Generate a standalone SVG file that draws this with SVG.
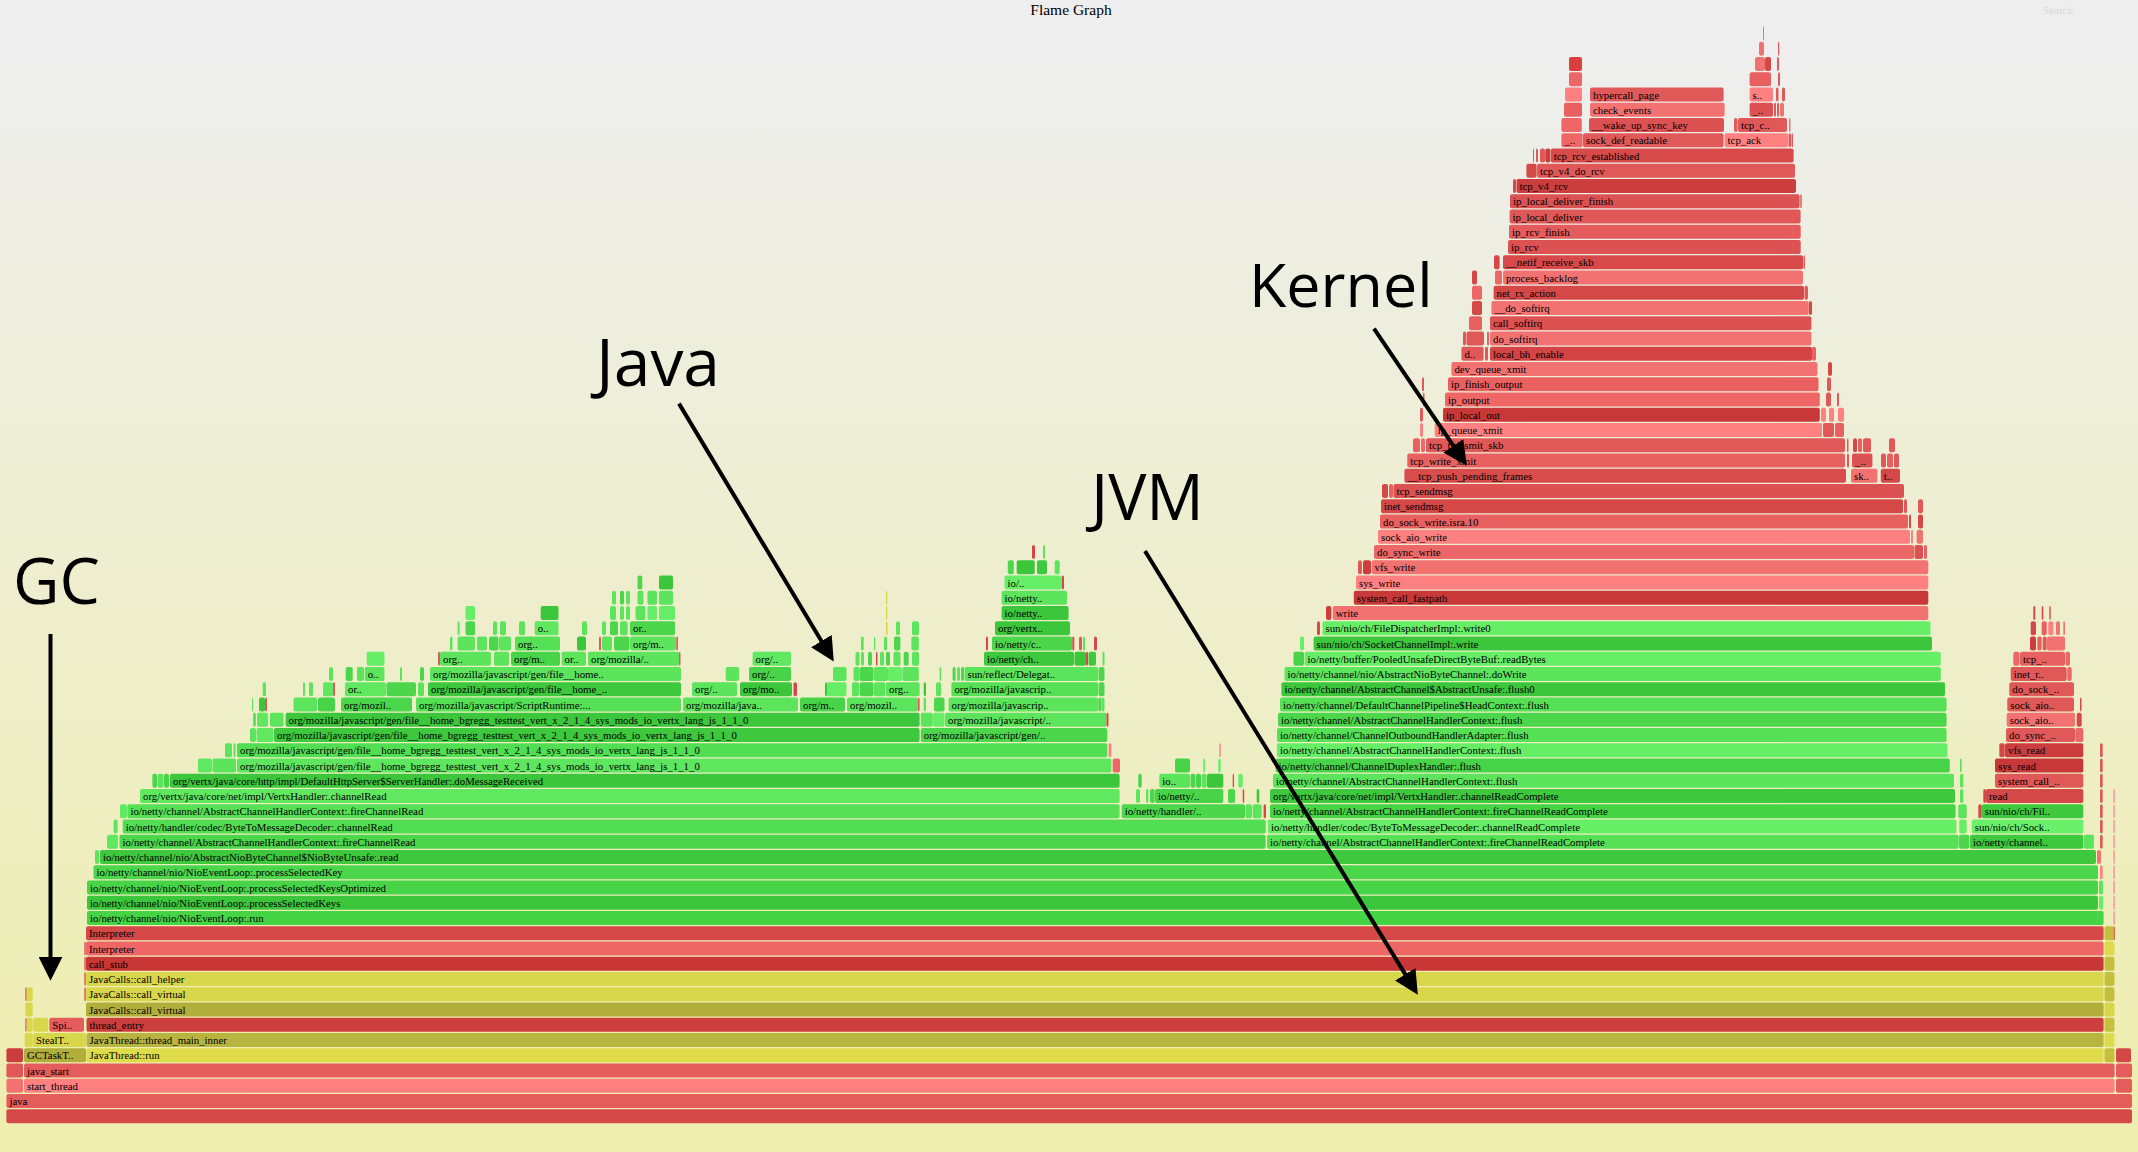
<svg xmlns="http://www.w3.org/2000/svg" width="2138" height="1152" viewBox="0 0 2138 1152">
<defs>
<linearGradient id="bg" x1="0" y1="0" x2="0" y2="1"><stop offset="0.05" stop-color="#eeeeee"/><stop offset="0.95" stop-color="#eeeeb0"/></linearGradient>
<marker id="ah" viewBox="0 0 10 10" refX="8" refY="5" markerWidth="24" markerHeight="24" markerUnits="userSpaceOnUse" orient="auto"><path d="M0,0 L10,5 L0,10 z" fill="#000"/></marker>
</defs>
<style>
#frames rect{rx:2px;ry:2px}
#frames text{font-family:"Liberation Serif","Times New Roman",serif;font-size:10.8px;fill:#000}
.a{fill:#d44848}.b{fill:#e55c5c}.c{fill:#ff8080}.d{fill:#ee6666}.e{fill:#c83838}.f{fill:#f27272}.h{fill:#dc5252}.i{fill:#e86060}.j{fill:#cc3e3e}.k{fill:#e05858}
.y1{fill:#dfdc4c}.y2{fill:#b7b43f}.y3{fill:#b2ae3c}.y4{fill:#d8d64a}.y5{fill:#c4c03e}
.g1{fill:#44d444}.g2{fill:#3cc63c}.g3{fill:#4cd64c}.g4{fill:#5ce45c}.g5{fill:#66ee66}.g6{fill:#55e055}.g7{fill:#3ec83e}.g8{fill:#60e860}.g9{fill:#48d448}.g10{fill:#52de52}
.lbl{font-family:"Open Sans","DejaVu Sans",sans-serif;font-size:64px;fill:#000}
.arr{stroke:#000;stroke-width:4;fill:none;marker-end:url(#ah)}
</style>
<rect x="0" y="0" width="2138" height="1152" fill="url(#bg)"/>
<text x="1071" y="14.5" text-anchor="middle" style="font-family:'Liberation Serif',serif;font-size:15.5px" fill="#000">Flame Graph</text>
<text x="2043" y="14" style="font-family:'Liberation Serif',serif;font-size:11px" fill="#000" opacity="0.1">Search</text>
<g id="frames">
<g id="row0" transform="translate(0,1109.3)"><g id="k0-root"><rect class="a" x="6.4" width="2125.6" height="14"/></g></g>
<g id="row1" transform="translate(0,1094.05)"><g id="k1-java"><rect class="b" x="6.4" width="2125.6" height="14"/><text x="9.4" y="11">java</text></g></g>
<g id="row2" transform="translate(0,1078.8)"><rect class="f" x="6.4" width="16.6" height="14"/><g id="k2-start_thread"><rect class="c" x="24" width="2090.6" height="14"/><text x="27" y="11">start_thread</text></g><rect class="b" x="2116" width="16" height="14"/></g>
<g id="row3" transform="translate(0,1063.55)"><rect class="k" x="6.4" width="16.6" height="14"/><g id="k3-java_start"><rect class="b" x="24" width="2090.6" height="14"/><text x="27" y="11">java_start</text></g><rect class="b" x="2116" width="16" height="14"/></g>
<g id="row4" transform="translate(0,1048.3)"><rect class="j" x="6.4" width="16.6" height="14"/><g id="k4-GCTask"><rect class="y3" x="24" width="62" height="14"/><text x="27" y="11">GCTaskT..</text></g><g id="k4-JavaThread_run"><rect class="y1" x="86.5" width="2017.1" height="14"/><text x="89.5" y="11">JavaThread::run</text></g><rect class="y5" x="2104.5" width="10" height="14"/><rect class="a" x="2116" width="15" height="14"/></g>
<g id="row5" transform="translate(0,1033.05)"><rect class="y4" x="24.7" width="8" height="14"/><g id="k5-StealT"><rect class="y4" x="33" width="53" height="14"/><text x="36" y="11">StealT..</text></g><g id="k5-main_inner"><rect class="y2" x="86.5" width="2017.1" height="14"/><text x="89.5" y="11">JavaThread::thread_main_inner</text></g><rect class="y1" x="2104.5" width="10" height="14"/></g>
<g id="row6" transform="translate(0,1017.8)"><rect class="k" x="25.3" width="1.4" height="14"/><rect class="y4" x="26.7" width="6" height="14"/><rect class="y4" x="33.3" width="15" height="14"/><g id="k6-Spi"><rect class="b" x="49.3" width="34.7" height="14"/><text x="52.3" y="11">Spi..</text></g><g id="k6-thread_entry"><rect fill="#cd3f3f" x="86.5" width="2017.1" height="14"/><text x="89.5" y="11">thread_entry</text></g><rect class="y5" x="2104.5" width="10" height="14"/></g>
<g id="row7" transform="translate(0,1002.55)"><rect class="y4" x="25.3" width="7.4" height="14"/><g id="k7-call_virtual"><rect class="y3" x="86" width="2017.6" height="14"/><text x="89" y="11">JavaCalls::call_virtual</text></g><rect class="y4" x="2104.5" width="10" height="14"/></g>
<g id="row8" transform="translate(0,987.3)"><rect class="k" x="25.3" width="1.4" height="14"/><rect class="y4" x="26.7" width="6" height="14"/><rect class="k" x="84.3" width="1.5" height="14"/><g id="k8-call_virtual"><rect class="y4" x="86" width="2017.6" height="14"/><text x="89" y="11">JavaCalls::call_virtual</text></g><rect class="y5" x="2104.5" width="10" height="14"/></g>
<g id="row9" transform="translate(0,972.05)"><rect class="k" x="84.3" width="1.5" height="14"/><g id="k9-call_helper"><rect class="y4" x="86" width="2017.6" height="14"/><text x="89" y="11">JavaCalls::call_helper</text></g><rect class="y5" x="2104.5" width="10" height="14"/></g>
<g id="row10" transform="translate(0,956.8)"><rect class="k" x="84.3" width="1.5" height="14"/><g id="k10-call_stub"><rect fill="#c83636" x="86" width="2017.6" height="14"/><text x="89" y="11">call_stub</text></g><rect class="y5" x="2104.5" width="10" height="14"/></g>
<g id="row11" transform="translate(0,941.55)"><rect class="k" x="84.3" width="1.5" height="14"/><g id="k11-Interpreter"><rect class="d" x="86" width="2017.6" height="14"/><text x="89" y="11">Interpreter</text></g><rect class="y1" x="2104.5" width="10" height="14"/></g>
<g id="row12" transform="translate(0,926.3)"><g id="k12-Interpreter"><rect class="a" x="86" width="2017.6" height="14"/><text x="89" y="11">Interpreter</text></g><rect class="y5" x="2104.5" width="10" height="14"/><rect class="d" x="2113.6" width="1.4" height="14"/></g>
<g id="row13" transform="translate(0,911.05)"><g id="k13-run"><rect class="g1" x="87" width="2016.6" height="14"/><text x="90" y="11">io/netty/channel/nio/NioEventLoop:.run</text></g><rect fill="#f4a0a0" x="2113.3" width="1.7" height="14"/></g>
<g id="row14" transform="translate(0,895.8)"><g id="k14-pSK"><rect class="g2" x="87" width="2011" height="14"/><text x="90" y="11">io/netty/channel/nio/NioEventLoop:.processSelectedKeys</text></g><rect class="g5" x="2099" width="4" height="14"/><rect fill="#f4a0a0" x="2113.3" width="1.7" height="14"/></g>
<g id="row15" transform="translate(0,880.55)"><g id="k15-pSKO"><rect class="g9" x="87" width="2011" height="14"/><text x="90" y="11">io/netty/channel/nio/NioEventLoop:.processSelectedKeysOptimized</text></g><rect class="g4" x="2099" width="4" height="14"/><rect fill="#f4a0a0" x="2113.3" width="1.7" height="14"/></g>
<g id="row16" transform="translate(0,865.3)"><g id="k16-pSK1"><rect class="g3" x="93.5" width="2004.5" height="14"/><text x="96.5" y="11">io/netty/channel/nio/NioEventLoop:.processSelectedKey</text></g><rect class="c" x="2100" width="2.7" height="14"/><rect fill="#f4a0a0" x="2113.3" width="1.7" height="14"/></g>
<g id="row17" transform="translate(0,850.05)"><rect class="g4" x="95" width="4" height="14"/><g id="k17-read"><rect class="g7" x="100" width="1996" height="14"/><text x="103" y="11">io/netty/channel/nio/AbstractNioByteChannel$NioByteUnsafe:.read</text></g><rect class="f" x="2097" width="4" height="14"/><rect fill="#f4a0a0" x="2113.3" width="1.7" height="14"/></g>
<g id="row18" transform="translate(0,834.8)"><rect class="g8" x="107" width="11" height="14"/><g id="k18-fCR"><rect class="g3" x="119.5" width="1146.2" height="14"/><text x="122.5" y="11">io/netty/channel/AbstractChannelHandlerContext:.fireChannelRead</text></g><g id="k18-fCRC"><rect class="g6" x="1267" width="691.6" height="14"/><text x="1270" y="11">io/netty/channel/AbstractChannelHandlerContext:.fireChannelReadComplete</text></g><rect class="g3" x="1959" width="10.3" height="14"/><g id="k18-ionc"><rect class="g7" x="1970" width="113.3" height="14"/><text x="1973" y="11">io/netty/channel..</text></g><rect class="g4" x="2083.8" width="10.2" height="14"/><rect class="k" x="2100" width="2.7" height="14"/><rect fill="#f4a0a0" x="2113.3" width="1.7" height="14"/></g>
<g id="row19" transform="translate(0,819.55)"><rect class="g4" x="113.6" width="4" height="14"/><g id="k19-B2MD"><rect class="g10" x="122.7" width="1143" height="14"/><text x="125.7" y="11">io/netty/handler/codec/ByteToMessageDecoder:.channelRead</text></g><g id="k19-B2MDc"><rect class="g5" x="1268" width="688.4" height="14"/><text x="1271" y="11">io/netty/handler/codec/ByteToMessageDecoder:.channelReadComplete</text></g><rect class="g5" x="1959.3" width="7.4" height="14"/><g id="k19-sock"><rect fill="#6af06a" x="1971.7" width="111.6" height="14"/><text x="1974.7" y="11">sun/nio/ch/Sock..</text></g><rect class="k" x="2100" width="2.7" height="14"/><rect fill="#f4a0a0" x="2113.3" width="1.7" height="14"/></g>
<g id="row20" transform="translate(0,804.3)"><rect class="g8" x="120" width="7" height="14"/><g id="k20-fCR"><rect class="g6" x="127.4" width="992.2" height="14"/><text x="130.4" y="11">io/netty/channel/AbstractChannelHandlerContext:.fireChannelRead</text></g><g id="k20-handler"><rect class="g3" x="1121.7" width="123.3" height="14"/><text x="1124.7" y="11">io/netty/handler/..</text></g><rect class="g4" x="1245.5" width="6.5" height="14"/><rect class="g4" x="1252.7" width="9" height="14"/><rect class="a" x="1263.6" width="2.4" height="14"/><g id="k20-fCRC"><rect class="g1" x="1270" width="685.5" height="14"/><text x="1273" y="11">io/netty/channel/AbstractChannelHandlerContext:.fireChannelReadComplete</text></g><rect class="g4" x="1958.3" width="8.4" height="14"/><rect class="a" x="1978.3" width="3.4" height="14"/><g id="k20-fil"><rect class="g7" x="1981.7" width="101.6" height="14"/><text x="1984.7" y="11">sun/nio/ch/Fil..</text></g><rect class="k" x="2100" width="2.7" height="14"/><rect fill="#f4a0a0" x="2113.3" width="1.7" height="14"/></g>
<g id="row21" transform="translate(0,789.05)"><g id="k21-vertx"><rect class="g8" x="140" width="979.6" height="14"/><text x="143" y="11">org/vertx/java/core/net/impl/VertxHandler:.channelRead</text></g><rect class="g4" x="1136" width="4" height="14"/><rect class="g4" x="1146" width="2.3" height="14"/><rect class="g3" x="1150" width="4.6" height="14"/><g id="k21-ion"><rect class="g9" x="1155" width="68.3" height="14"/><text x="1158" y="11">io/netty/..</text></g><rect class="g3" x="1228" width="7" height="14"/><rect class="a" x="1242.7" width="1.5" height="14"/><rect class="g2" x="1256.7" width="2.6" height="14"/><g id="k21-vertxc"><rect class="g7" x="1270" width="685" height="14"/><text x="1273" y="11">org/vertx/java/core/net/impl/VertxHandler:.channelReadComplete</text></g><rect class="g4" x="1960" width="3.3" height="14"/><rect class="a" x="1983.3" width="2.7" height="14"/><g id="k21-read"><rect class="a" x="1986" width="97.3" height="14"/><text x="1989" y="11">read</text></g><rect class="k" x="2100" width="2.7" height="14"/><rect fill="#f4a0a0" x="2113.3" width="1.7" height="14"/></g>
<g id="row22" transform="translate(0,773.8)"><rect class="g3" x="152.4" width="4.6" height="14"/><rect class="g4" x="157.5" width="6" height="14"/><rect class="g9" x="164" width="5" height="14"/><g id="k22-dmr"><rect class="g2" x="170" width="949.6" height="14"/><text x="173" y="11">org/vertx/java/core/http/impl/DefaultHttpServer$ServerHandler:.doMessageReceived</text></g><rect class="g9" x="1138.3" width="3.4" height="14"/><g id="k22-io"><rect class="g4" x="1159.3" width="30.7" height="14"/><text x="1162.3" y="11">io..</text></g><rect class="g3" x="1190.5" width="5" height="14"/><rect class="g9" x="1196" width="5" height="14"/><rect class="g4" x="1201.7" width="5" height="14"/><rect class="g2" x="1207" width="16.3" height="14"/><rect class="a" x="1232.7" width="1.3" height="14"/><rect class="g5" x="1238.3" width="4.4" height="14"/><g id="k22-flush"><rect class="g4" x="1273" width="681" height="14"/><text x="1276" y="11">io/netty/channel/AbstractChannelHandlerContext:.flush</text></g><rect class="g4" x="1960" width="3.3" height="14"/><g id="k22-scf"><rect class="k" x="1995" width="88.3" height="14"/><text x="1998" y="11">system_call_..</text></g><rect class="k" x="2100" width="2.7" height="14"/></g>
<g id="row23" transform="translate(0,758.55)"><rect class="g8" x="198" width="14" height="14"/><rect class="g4" x="212.5" width="23.5" height="14"/><g id="k23-js"><rect fill="#5ee65e" x="237" width="874.4" height="14"/><text x="240" y="11">org/mozilla/javascript/gen/file__home_bgregg_testtest_vert_x_2_1_4_sys_mods_io_vertx_lang_js_1_1_0</text></g><rect class="d" x="1112.7" width="7.3" height="14"/><rect class="g9" x="1175" width="15" height="14"/><rect class="g5" x="1203.3" width="1.7" height="14"/><rect class="g5" x="1218.3" width="2.4" height="14"/><g id="k23-dflush"><rect class="g9" x="1275.6" width="674.2" height="14"/><text x="1278.6" y="11">io/netty/channel/ChannelDuplexHandler:.flush</text></g><rect class="g4" x="1960" width="1.7" height="14"/><g id="k23-sysread"><rect class="e" x="1995" width="88.3" height="14"/><text x="1998" y="11">sys_read</text></g><rect class="k" x="2100" width="2.7" height="14"/></g>
<g id="row24" transform="translate(0,743.3)"><rect class="g4" x="225" width="7" height="14"/><rect class="g4" x="233.5" width="2" height="14"/><g id="k24-js"><rect class="g10" x="237" width="870.3" height="14"/><text x="240" y="11">org/mozilla/javascript/gen/file__home_bgregg_testtest_vert_x_2_1_4_sys_mods_io_vertx_lang_js_1_1_0</text></g><rect class="c" x="1108.6" width="2.8" height="14"/><rect class="c" x="1219.3" width="1.4" height="14"/><g id="k24-flush"><rect class="g5" x="1277" width="670.5" height="14"/><text x="1280" y="11">io/netty/channel/AbstractChannelHandlerContext:.flush</text></g><rect class="a" x="1999.3" width="5.4" height="14"/><g id="k24-vfsread"><rect class="j" x="2005" width="78.3" height="14"/><text x="2008" y="11">vfs_read</text></g><rect class="k" x="2100" width="2.7" height="14"/></g>
<g id="row25" transform="translate(0,728.05)"><rect class="g4" x="250" width="6" height="14"/><rect class="g8" x="256.5" width="17" height="14"/><g id="k25-js"><rect class="g7" x="274" width="645.6" height="14"/><text x="277" y="11">org/mozilla/javascript/gen/file__home_bgregg_testtest_vert_x_2_1_4_sys_mods_io_vertx_lang_js_1_1_0</text></g><g id="k25-gen"><rect class="g3" x="920.8" width="186.5" height="14"/><text x="923.8" y="11">org/mozilla/javascript/gen/..</text></g><g id="k25-oflush"><rect class="g6" x="1277" width="669.6" height="14"/><text x="1280" y="11">io/netty/channel/ChannelOutboundHandlerAdapter:.flush</text></g><g id="k25-dsync"><rect class="k" x="2006" width="69" height="14"/><text x="2009" y="11">do_sync_..</text></g><rect class="d" x="2075.3" width="8" height="14"/></g>
<g id="row26" transform="translate(0,712.8)"><rect class="g4" x="253" width="3" height="14"/><rect class="g8" x="257" width="11" height="14"/><rect class="g4" x="270" width="13.6" height="14"/><g id="k26-js"><rect class="g2" x="285.6" width="634" height="14"/><text x="288.6" y="11">org/mozilla/javascript/gen/file__home_bgregg_testtest_vert_x_2_1_4_sys_mods_io_vertx_lang_js_1_1_0</text></g><rect class="g4" x="920.8" width="12" height="14"/><rect class="g5" x="933" width="11.5" height="14"/><g id="k26-jsx"><rect class="g4" x="945" width="161.5" height="14"/><text x="948" y="11">org/mozilla/javascript/..</text></g><rect class="a" x="1106.5" width="2" height="14"/><g id="k26-flush"><rect class="g3" x="1278" width="668.6" height="14"/><text x="1281" y="11">io/netty/channel/AbstractChannelHandlerContext:.flush</text></g><g id="k26-saio"><rect class="f" x="2006.7" width="68.3" height="14"/><text x="2009.7" y="11">sock_aio..</text></g><rect class="a" x="2076.7" width="5" height="14"/></g>
<g id="row27" transform="translate(0,697.55)"><rect class="g4" x="252" width="1" height="14"/><rect class="g2" x="259" width="6" height="14"/><rect class="k" x="265" width="2" height="14"/><rect class="g4" x="293.5" width="23.5" height="14"/><rect class="g9" x="318" width="17" height="14"/><g id="k27-om1"><rect class="g3" x="341" width="71" height="14"/><text x="344" y="11">org/mozil..</text></g><g id="k27-sr"><rect class="g6" x="416" width="265" height="14"/><text x="419" y="11">org/mozilla/javascript/ScriptRuntime:...</text></g><g id="k27-omj"><rect class="g4" x="683" width="115" height="14"/><text x="686" y="11">org/mozilla/java..</text></g><g id="k27-om"><rect class="g9" x="800" width="45" height="14"/><text x="803" y="11">org/m..</text></g><g id="k27-om2"><rect class="g4" x="847" width="71" height="14"/><text x="850" y="11">org/mozil..</text></g><rect class="k" x="918" width="1.6" height="14"/><rect class="g4" x="923.7" width="2.3" height="14"/><rect class="g3" x="934" width="10.5" height="14"/><g id="k27-omjs"><rect class="g4" x="948.6" width="149.4" height="14"/><text x="951.6" y="11">org/mozilla/javascrip..</text></g><rect class="g3" x="1098.3" width="2.7" height="14"/><rect class="g4" x="1101.3" width="3.2" height="14"/><g id="k27-hflush"><rect class="g6" x="1280" width="666.6" height="14"/><text x="1283" y="11">io/netty/channel/DefaultChannelPipeline$HeadContext:.flush</text></g><g id="k27-saio"><rect class="k" x="2007.3" width="66.7" height="14"/><text x="2010.3" y="11">sock_aio..</text></g><rect class="a" x="2080" width="1.5" height="14"/></g>
<g id="row28" transform="translate(0,682.3)"><rect class="g4" x="262.7" width="3.3" height="14"/><rect class="g4" x="303" width="2" height="14"/><rect class="g4" x="309" width="4" height="14"/><rect class="g8" x="323" width="10" height="14"/><rect class="k" x="333" width="2" height="14"/><g id="k28-or"><rect class="g8" x="345" width="41" height="14"/><text x="348" y="11">or..</text></g><rect class="g3" x="386.5" width="29.5" height="14"/><rect class="g4" x="418" width="6" height="14"/><g id="k28-fh"><rect class="g7" x="428" width="253" height="14"/><text x="431" y="11">org/mozilla/javascript/gen/file__home_..</text></g><g id="k28-org"><rect class="g4" x="692" width="45" height="14"/><text x="695" y="11">org/..</text></g><g id="k28-orgmo"><rect class="g2" x="740" width="52" height="14"/><text x="743" y="11">org/mo..</text></g><rect class="a" x="793.5" width="3.5" height="14"/><rect class="g2" x="825" width="2" height="14"/><rect class="g5" x="827" width="19.5" height="14"/><rect class="g4" x="852" width="7" height="14"/><rect class="g3" x="859.6" width="14" height="14"/><rect class="g4" x="874" width="11.5" height="14"/><g id="k28-org2"><rect class="g4" x="886" width="33.6" height="14"/><text x="889" y="11">org..</text></g><rect class="g2" x="923.7" width="2.3" height="14"/><rect class="g4" x="936" width="5" height="14"/><g id="k28-omjs"><rect class="g6" x="951.4" width="147" height="14"/><text x="954.4" y="11">org/mozilla/javascrip..</text></g><rect class="g3" x="1098.8" width="5.7" height="14"/><g id="k28-flush0"><rect class="g2" x="1281.4" width="663.6" height="14"/><text x="1284.4" y="11">io/netty/channel/AbstractChannel$AbstractUnsafe:.flush0</text></g><g id="k28-dsock"><rect class="k" x="2009.3" width="64.7" height="14"/><text x="2012.3" y="11">do_sock_..</text></g></g>
<g id="row29" transform="translate(0,667.05)"><rect class="g4" x="329" width="4" height="14"/><rect class="g3" x="345.7" width="7" height="14"/><rect class="g4" x="357" width="7" height="14"/><g id="k29-o"><rect class="g4" x="364.7" width="19.8" height="14"/><text x="367.7" y="11">o..</text></g><rect class="g4" x="400" width="2" height="14"/><rect class="g3" x="420" width="4" height="14"/><g id="k29-fh"><rect class="g4" x="430" width="251" height="14"/><text x="433" y="11">org/mozilla/javascript/gen/file__home..</text></g><rect class="g4" x="725.7" width="13.3" height="14"/><g id="k29-org"><rect class="g9" x="749" width="42" height="14"/><text x="752" y="11">org/..</text></g><rect class="g4" x="833" width="13.5" height="14"/><rect class="g4" x="853.5" width="6" height="14"/><rect class="g3" x="859.6" width="14" height="14"/><rect class="g4" x="874" width="14" height="14"/><rect class="g5" x="888" width="14" height="14"/><rect class="g4" x="902.4" width="16.4" height="14"/><rect class="g4" x="939.6" width="1.6" height="14"/><rect class="g3" x="952.6" width="3" height="14"/><rect class="g4" x="957" width="3" height="14"/><rect class="g3" x="961" width="3" height="14"/><g id="k29-deleg"><rect class="g4" x="964.5" width="133.9" height="14"/><text x="967.5" y="11">sun/reflect/Delegat..</text></g><rect class="g3" x="1098.8" width="5.7" height="14"/><g id="k29-dowrite"><rect class="g4" x="1284.5" width="656.3" height="14"/><text x="1287.5" y="11">io/netty/channel/nio/AbstractNioByteChannel:.doWrite</text></g><g id="k29-inet"><rect class="k" x="2010.7" width="56" height="14"/><text x="2013.7" y="11">inet_r..</text></g><rect class="d" x="2067.3" width="4.4" height="14"/></g>
<g id="row30" transform="translate(0,651.8)"><rect class="g5" x="366.7" width="17.8" height="14"/><rect class="k" x="438" width="2" height="14"/><g id="k30-org"><rect class="g4" x="440" width="51" height="14"/><text x="443" y="11">org..</text></g><rect class="g4" x="494" width="15" height="14"/><g id="k30-orgm"><rect class="g9" x="511" width="49" height="14"/><text x="514" y="11">org/m..</text></g><g id="k30-or"><rect class="g4" x="561.6" width="24.4" height="14"/><text x="564.6" y="11">or..</text></g><g id="k30-om"><rect class="g4" x="588" width="91" height="14"/><text x="591" y="11">org/mozilla/..</text></g><rect class="k" x="679" width="1.5" height="14"/><g id="k30-org2"><rect class="g8" x="752.6" width="38.4" height="14"/><text x="755.6" y="11">org/..</text></g><rect class="g4" x="855.5" width="4" height="14"/><rect class="g4" x="861" width="3" height="14"/><rect class="g3" x="868" width="4" height="14"/><rect class="a" x="876" width="1.5" height="14"/><rect class="g4" x="880" width="4" height="14"/><rect class="g3" x="886" width="4" height="14"/><rect class="g4" x="893.5" width="7" height="14"/><rect class="g3" x="903.7" width="5" height="14"/><rect class="g4" x="912" width="7" height="14"/><g id="k30-ionch"><rect class="g7" x="984" width="90" height="14"/><text x="987" y="11">io/netty/ch..</text></g><rect class="g2" x="1074.5" width="11.5" height="14"/><rect class="a" x="1086" width="2" height="14"/><rect class="g7" x="1088.5" width="7.5" height="14"/><rect class="g4" x="1102.5" width="2" height="14"/><rect class="g9" x="1293.5" width="10.5" height="14"/><g id="k30-readbytes"><rect class="g5" x="1304.6" width="636.2" height="14"/><text x="1307.6" y="11">io/netty/buffer/PooledUnsafeDirectByteBuf:.readBytes</text></g><rect class="d" x="2013.3" width="6.2" height="14"/><g id="k30-tcp"><rect class="i" x="2020" width="45" height="14"/><text x="2023" y="11">tcp_..</text></g><rect class="d" x="2065.5" width="4.5" height="14"/></g>
<g id="row31" transform="translate(0,636.55)"><rect class="g4" x="450" width="2.5" height="14"/><rect class="g4" x="457.6" width="17.4" height="14"/><rect class="g4" x="477" width="10" height="14"/><rect class="g3" x="489" width="9.5" height="14"/><rect class="g4" x="499" width="12" height="14"/><g id="k31-org"><rect class="g6" x="515" width="45" height="14"/><text x="518" y="11">org..</text></g><rect class="g2" x="577" width="9" height="14"/><rect class="k" x="599" width="2" height="14"/><rect class="g4" x="602" width="10" height="14"/><rect class="g3" x="614" width="15.5" height="14"/><g id="k31-orgm"><rect class="g4" x="630" width="46" height="14"/><text x="633" y="11">org/m..</text></g><rect class="k" x="676.3" width="1.7" height="14"/><rect class="g4" x="861" width="2.7" height="14"/><rect class="g4" x="874" width="1.2" height="14"/><rect class="g4" x="884" width="3" height="14"/><rect class="g3" x="894" width="6.4" height="14"/><rect class="g4" x="911.4" width="7.4" height="14"/><rect class="a" x="986" width="2" height="14"/><g id="k31-ionc"><rect class="g3" x="992" width="80" height="14"/><text x="995" y="11">io/netty/c..</text></g><rect class="a" x="1072.3" width="2" height="14"/><rect class="k" x="1079" width="3" height="14"/><rect class="g4" x="1083" width="2" height="14"/><rect class="a" x="1094" width="3" height="14"/><rect class="g5" x="1300" width="4" height="14"/><g id="k31-scw"><rect class="g2" x="1313.6" width="618.4" height="14"/><text x="1316.6" y="11">sun/nio/ch/SocketChannelImpl:.write</text></g><rect class="j" x="2030" width="6" height="14"/><rect class="i" x="2037.3" width="4.4" height="14"/><rect class="k" x="2042.7" width="4" height="14"/><rect class="f" x="2047" width="18" height="14"/></g>
<g id="row32" transform="translate(0,621.3)"><rect class="g4" x="457.6" width="2" height="14"/><rect class="g3" x="465.5" width="9.5" height="14"/><rect class="g4" x="493" width="4" height="14"/><rect class="g4" x="500" width="6" height="14"/><rect class="g4" x="519" width="6" height="14"/><g id="k32-o"><rect class="g8" x="534.7" width="23.8" height="14"/><text x="537.7" y="11">o..</text></g><rect class="g4" x="582" width="5" height="14"/><rect class="g4" x="602" width="4" height="14"/><rect class="g3" x="610" width="8" height="14"/><rect class="g4" x="620" width="7.6" height="14"/><g id="k32-or"><rect class="g3" x="630" width="45" height="14"/><text x="633" y="11">or..</text></g><rect class="y4" x="886" width="1.6" height="14"/><rect class="g4" x="896" width="4" height="14"/><rect class="g4" x="912" width="7" height="14"/><g id="k32-vertx"><rect class="g2" x="995" width="75" height="14"/><text x="998" y="11">org/vertx..</text></g><rect class="a" x="1317" width="3" height="14"/><g id="k32-write0"><rect class="g5" x="1322.5" width="608" height="14"/><text x="1325.5" y="11">sun/nio/ch/FileDispatcherImpl:.write0</text></g><rect class="a" x="2030.7" width="5.3" height="14"/><rect class="i" x="2041.7" width="5" height="14"/><rect class="c" x="2048.3" width="5" height="14"/><rect class="f" x="2056" width="4" height="14"/><rect class="f" x="2063.3" width="1.7" height="14"/></g>
<g id="row33" transform="translate(0,606.05)"><rect class="g5" x="465.5" width="9.5" height="14"/><rect class="g2" x="540.7" width="17.8" height="14"/><rect class="g4" x="610" width="6" height="14"/><rect class="g4" x="620" width="4" height="14"/><rect class="g4" x="626" width="4" height="14"/><rect class="g4" x="635.5" width="10" height="14"/><rect class="g5" x="647.4" width="9.6" height="14"/><rect class="g5" x="659" width="16" height="14"/><rect class="y4" x="886" width="1.3" height="14"/><g id="k33-ion"><rect class="g2" x="1001.6" width="67" height="14"/><text x="1004.6" y="11">io/netty..</text></g><rect class="j" x="1326" width="5.4" height="14"/><g id="k33-write"><rect class="f" x="1332.8" width="595.5" height="14"/><text x="1335.8" y="11">write</text></g><rect class="a" x="2033.3" width="2" height="14"/><rect class="a" x="2041.7" width="1.6" height="14"/><rect class="a" x="2049.3" width="1.4" height="14"/></g>
<g id="row34" transform="translate(0,590.8)"><rect class="g4" x="612" width="4" height="14"/><rect class="g3" x="620" width="4" height="14"/><rect class="g4" x="626" width="4" height="14"/><rect class="g4" x="637.5" width="6" height="14"/><rect class="g4" x="647.4" width="9.6" height="14"/><rect class="g4" x="659" width="14" height="14"/><rect class="y4" x="886" width="1.3" height="14"/><g id="k34-ion"><rect class="g4" x="1001.6" width="65.4" height="14"/><text x="1004.6" y="11">io/netty..</text></g><g id="k34-scf"><rect class="e" x="1353.8" width="574.5" height="14"/><text x="1356.8" y="11">system_call_fastpath</text></g></g>
<g id="row35" transform="translate(0,575.55)"><rect class="g3" x="637.5" width="4.8" height="14"/><rect class="g2" x="659" width="14" height="14"/><g id="k35-io"><rect class="g5" x="1004.5" width="57.5" height="14"/><text x="1007.5" y="11">io/..</text></g><rect class="a" x="1062" width="2" height="14"/><g id="k35-syswrite"><rect class="c" x="1356" width="572.3" height="14"/><text x="1359" y="11">sys_write</text></g></g>
<g id="row36" transform="translate(0,560.3)"><rect class="g3" x="1007.8" width="6" height="14"/><rect class="g2" x="1016.7" width="18" height="14"/><rect class="g7" x="1037" width="10" height="14"/><rect class="g4" x="1054.7" width="5" height="14"/><rect class="k" x="1358" width="4" height="14"/><rect class="j" x="1363" width="8" height="14"/><g id="k36-vfswrite"><rect class="f" x="1371.6" width="556.7" height="14"/><text x="1374.6" y="11">vfs_write</text></g></g>
<g id="row37" transform="translate(0,545.05)"><rect class="a" x="1032" width="3" height="14"/><rect class="g4" x="1043" width="2" height="14"/><g id="k37-dsw"><rect fill="#ec6868" x="1374" width="540" height="14"/><text x="1377" y="11">do_sync_write</text></g><rect class="h" x="1914.5" width="8.5" height="14"/><rect class="i" x="1924" width="3" height="14"/></g>
<g id="row38" transform="translate(0,529.8)"><g id="k38-saw"><rect class="c" x="1378" width="532" height="14"/><text x="1381" y="11">sock_aio_write</text></g><rect class="c" x="1911" width="2" height="14"/><rect class="f" x="1916.6" width="6.4" height="14"/></g>
<g id="row39" transform="translate(0,514.55)"><g id="k39-dsw"><rect class="i" x="1380" width="528" height="14"/><text x="1383" y="11">do_sock_write.isra.10</text></g><rect class="a" x="1909" width="2" height="14"/><rect class="a" x="1918" width="5" height="14"/></g>
<g id="row40" transform="translate(0,499.3)"><g id="k40-inet"><rect class="a" x="1381" width="522" height="14"/><text x="1384" y="11">inet_sendmsg</text></g><rect class="k" x="1904" width="3" height="14"/><rect class="k" x="1918" width="5" height="14"/></g>
<g id="row41" transform="translate(0,484.05)"><rect class="a" x="1382" width="6" height="14"/><rect class="i" x="1389" width="4" height="14"/><g id="k41-tcps"><rect class="h" x="1393.4" width="510.6" height="14"/><text x="1396.4" y="11">tcp_sendmsg</text></g></g>
<g id="row42" transform="translate(0,468.8)"><g id="k42-push"><rect fill="#d84c4c" x="1404.4" width="441.6" height="14"/><text x="1407.4" y="11">__tcp_push_pending_frames</text></g><g id="k42-sk"><rect class="f" x="1851" width="26.4" height="14"/><text x="1854" y="11">sk..</text></g><g id="k42-t"><rect class="a" x="1880.8" width="19.2" height="14"/><text x="1883.8" y="11">t..</text></g></g>
<g id="row43" transform="translate(0,453.55)"><g id="k43-twx"><rect class="i" x="1407.3" width="437.7" height="14"/><text x="1410.3" y="11">tcp_write_xmit</text></g><rect class="k" x="1847" width="2" height="14"/><g id="k43-u"><rect class="h" x="1852" width="20.4" height="14"/><text x="1855" y="11">_..</text></g><rect class="k" x="1881" width="5" height="14"/><rect class="i" x="1887" width="6" height="14"/><rect class="k" x="1894" width="5" height="14"/></g>
<g id="row44" transform="translate(0,438.3)"><rect class="i" x="1413" width="7" height="14"/><rect class="d" x="1421" width="4" height="14"/><g id="k44-tts"><rect class="k" x="1426" width="419" height="14"/><text x="1429" y="11">tcp_transmit_skb</text></g><rect class="k" x="1847" width="1.5" height="14"/><rect class="a" x="1853" width="4" height="14"/><rect class="i" x="1858" width="4" height="14"/><rect class="k" x="1863" width="8" height="14"/><rect class="k" x="1889" width="6" height="14"/></g>
<g id="row45" transform="translate(0,423.05)"><rect class="c" x="1420" width="3" height="14"/><g id="k45-iqx"><rect class="c" x="1434.7" width="387.3" height="14"/><text x="1437.7" y="11">ip_queue_xmit</text></g><rect class="k" x="1823" width="11" height="14"/><rect class="i" x="1835" width="9" height="14"/></g>
<g id="row46" transform="translate(0,407.8)"><rect class="k" x="1420" width="3" height="14"/><g id="k46-ilo"><rect class="e" x="1443" width="376.8" height="14"/><text x="1446" y="11">ip_local_out</text></g><rect class="c" x="1821" width="5" height="14"/><rect class="c" x="1829" width="5" height="14"/><rect class="c" x="1838" width="6" height="14"/></g>
<g id="row47" transform="translate(0,392.55)"><rect class="k" x="1423" width="1.5" height="14"/><g id="k47-ipo"><rect class="d" x="1445" width="374.8" height="14"/><text x="1448" y="11">ip_output</text></g><rect class="k" x="1826" width="5" height="14"/><rect class="k" x="1837" width="2" height="14"/></g>
<g id="row48" transform="translate(0,377.3)"><rect class="k" x="1422" width="2" height="14"/><g id="k48-ifo"><rect class="i" x="1448" width="370.5" height="14"/><text x="1451" y="11">ip_finish_output</text></g><rect class="k" x="1827" width="4" height="14"/></g>
<g id="row49" transform="translate(0,362.05)"><g id="k49-dqx"><rect class="f" x="1451.4" width="366.1" height="14"/><text x="1454.4" y="11">dev_queue_xmit</text></g><rect class="a" x="1828" width="4" height="14"/></g>
<g id="row50" transform="translate(0,346.8)"><g id="k50-d"><rect class="k" x="1461.4" width="22.2" height="14"/><text x="1464.4" y="11">d..</text></g><rect class="k" x="1485" width="3" height="14"/><g id="k50-lbe"><rect fill="#d44444" x="1490" width="322" height="14"/><text x="1493" y="11">local_bh_enable</text></g><rect class="i" x="1812" width="4" height="14"/></g>
<g id="row51" transform="translate(0,331.55)"><rect class="k" x="1463" width="3" height="14"/><rect class="k" x="1466.5" width="17.5" height="14"/><rect class="i" x="1487" width="2" height="14"/><g id="k51-dsi"><rect class="f" x="1490" width="321.4" height="14"/><text x="1493" y="11">do_softirq</text></g></g>
<g id="row52" transform="translate(0,316.3)"><rect class="i" x="1469" width="13" height="14"/><g id="k52-csi"><rect class="h" x="1490" width="321.4" height="14"/><text x="1493" y="11">call_softirq</text></g></g>
<g id="row53" transform="translate(0,301.05)"><rect class="a" x="1472" width="10" height="14"/><g id="k53-dsi"><rect class="f" x="1491.4" width="317.2" height="14"/><text x="1494.4" y="11">__do_softirq</text></g><rect class="a" x="1808.8" width="3.2" height="14"/></g>
<g id="row54" transform="translate(0,285.8)"><rect class="d" x="1472" width="10" height="14"/><g id="k54-nra"><rect class="a" x="1493.6" width="310.4" height="14"/><text x="1496.6" y="11">net_rx_action</text></g><rect class="k" x="1804.5" width="3.5" height="14"/></g>
<g id="row55" transform="translate(0,270.55)"><rect class="a" x="1472" width="5" height="14"/><rect class="d" x="1495" width="7" height="14"/><g id="k55-pb"><rect class="f" x="1503" width="300" height="14"/><text x="1506" y="11">process_backlog</text></g></g>
<g id="row56" transform="translate(0,255.3)"><rect class="a" x="1494" width="5.6" height="14"/><g id="k56-nrs"><rect fill="#d84a4a" x="1503" width="300" height="14"/><text x="1506" y="11">__netif_receive_skb</text></g><rect class="k" x="1803.5" width="1.5" height="14"/></g>
<g id="row57" transform="translate(0,240.05)"><g id="k57-iprcv"><rect class="h" x="1508" width="292.7" height="14"/><text x="1511" y="11">ip_rcv</text></g></g>
<g id="row58" transform="translate(0,224.8)"><g id="k58-irf"><rect fill="#e45c5c" x="1509" width="291.7" height="14"/><text x="1512" y="11">ip_rcv_finish</text></g></g>
<g id="row59" transform="translate(0,209.55)"><g id="k59-ild"><rect class="k" x="1509.6" width="291" height="14"/><text x="1512.6" y="11">ip_local_deliver</text></g></g>
<g id="row60" transform="translate(0,194.3)"><g id="k60-ildf"><rect class="h" x="1510" width="289.6" height="14"/><text x="1513" y="11">ip_local_deliver_finish</text></g><rect class="k" x="1800.3" width="1.5" height="14"/></g>
<g id="row61" transform="translate(0,179.05)"><rect class="a" x="1513" width="3" height="14"/><g id="k61-tv4r"><rect class="j" x="1516.5" width="279.5" height="14"/><text x="1519.5" y="11">tcp_v4_rcv</text></g></g>
<g id="row62" transform="translate(0,163.8)"><rect class="a" x="1526.4" width="10.2" height="14"/><g id="k62-tv4dr"><rect class="k" x="1537" width="258" height="14"/><text x="1540" y="11">tcp_v4_do_rcv</text></g></g>
<g id="row63" transform="translate(0,148.55)"><rect class="k" x="1533" width="1" height="14"/><rect class="k" x="1536" width="2" height="14"/><rect class="k" x="1540" width="5" height="14"/><rect class="j" x="1545.3" width="5" height="14"/><g id="k63-tre"><rect fill="#d84a4a" x="1550.7" width="242.9" height="14"/><text x="1553.7" y="11">tcp_rcv_established</text></g></g>
<g id="row64" transform="translate(0,133.3)"><g id="k64-u"><rect class="d" x="1561.4" width="21.2" height="14"/><text x="1564.4" y="11">_..</text></g><g id="k64-sdr"><rect class="k" x="1583" width="140.6" height="14"/><text x="1586" y="11">sock_def_readable</text></g><g id="k64-tack"><rect class="c" x="1724.6" width="63.4" height="14"/><text x="1727.6" y="11">tcp_ack</text></g><rect class="k" x="1788.5" width="2.5" height="14"/><rect class="k" x="1791.5" width="1.5" height="14"/></g>
<g id="row65" transform="translate(0,118.05)"><rect class="d" x="1561.4" width="20.4" height="14"/><g id="k65-wusk"><rect class="h" x="1589" width="135" height="14"/><text x="1592" y="11">__wake_up_sync_key</text></g><rect class="k" x="1734" width="3.5" height="14"/><g id="k65-tcpc"><rect class="k" x="1738" width="49" height="14"/><text x="1741" y="11">tcp_c..</text></g><rect class="f" x="1789" width="1.5" height="14"/></g>
<g id="row66" transform="translate(0,102.8)"><rect class="i" x="1564" width="18" height="14"/><g id="k66-ce"><rect class="f" x="1590" width="134.6" height="14"/><text x="1593" y="11">check_events</text></g><g id="k66-u"><rect class="h" x="1749.6" width="23.4" height="14"/><text x="1752.6" y="11">_..</text></g><rect class="k" x="1774" width="2" height="14"/><rect class="k" x="1777" width="2" height="14"/><rect class="f" x="1780" width="4" height="14"/></g>
<g id="row67" transform="translate(0,87.55)"><rect class="c" x="1565" width="17" height="14"/><g id="k67-hp"><rect class="k" x="1590" width="133.6" height="14"/><text x="1593" y="11">hypercall_page</text></g><g id="k67-s"><rect class="c" x="1749.6" width="23.4" height="14"/><text x="1752.6" y="11">s..</text></g><rect class="k" x="1776" width="2.5" height="14"/><rect class="k" x="1782" width="3" height="14"/></g>
<g id="row68" transform="translate(0,72.3)"><rect class="d" x="1569" width="13" height="14"/><rect class="i" x="1749.6" width="21.4" height="14"/><rect class="k" x="1778" width="2" height="14"/></g>
<g id="row69" transform="translate(0,57.05)"><rect fill="#d84040" x="1569" width="13" height="14"/><rect class="f" x="1755" width="10" height="14"/><rect class="a" x="1765" width="6" height="14"/><rect class="k" x="1777" width="2" height="14"/></g>
<g id="row70" transform="translate(0,41.8)"><rect class="f" x="1759" width="5" height="14"/><rect class="k" x="1778" width="1.2" height="14"/></g>
<g id="row71" transform="translate(0,26.55)"><rect class="f" x="1763" width="1" height="14"/></g>
</g>
<g id="labels">
<text class="lbl" x="13" y="604">GC</text>
<text class="lbl" x="596" y="386" style="font-size:66px">Java</text>
<text class="lbl" x="1091" y="520">JVM</text>
<text class="lbl" x="1249" y="307" style="font-size:61px">Kernel</text>
</g>
<g id="connectors">
<line class="arr" x1="50.5" y1="634" x2="50.5" y2="976"/>
<line class="arr" x1="679" y1="403.6" x2="831.3" y2="657.5"/>
<line class="arr" x1="1145" y1="551" x2="1415.3" y2="990.6"/>
<line class="arr" x1="1374" y1="328.6" x2="1464.1" y2="461.7"/>
</g>
</svg>
